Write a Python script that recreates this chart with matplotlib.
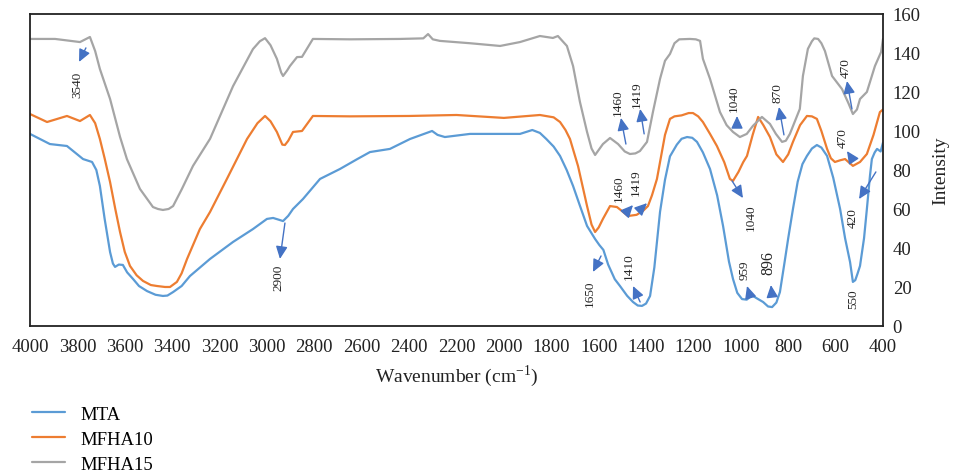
import matplotlib
matplotlib.use("Agg")
import matplotlib.pyplot as plt

plt.rcParams['font.family'] = ['Liberation Serif', 'DejaVu Serif']
plt.rcParams['mathtext.fontset'] = 'custom'
plt.rcParams['mathtext.rm'] = 'Liberation Serif'

# MTA (blue)
wn_mta = [4000, 3916, 3844, 3776, 3738, 3720, 3705, 3685, 3662, 3650, 3641, 3625, 3608, 3590,
          3565, 3540, 3506, 3470, 3439, 3420, 3396, 3360, 3325, 3240, 3143, 3059, 3000, 2974,
          2950, 2932, 2910, 2890, 2848, 2776, 2692, 2620, 2565, 2481, 2396, 2303, 2280, 2249,
          2143, 1932, 1880, 1848, 1821, 1790, 1763, 1735, 1708, 1680, 1649, 1615, 1597, 1580,
          1560, 1532, 1510, 1480, 1455, 1435, 1417, 1400, 1383, 1365, 1341, 1320, 1299, 1270,
          1250, 1227, 1205, 1185, 1160, 1130, 1100, 1075, 1050, 1033, 1015, 995, 975, 960, 949,
          930, 906, 885, 868, 850, 835, 815, 800, 780, 760, 740, 721, 700, 679, 660, 636, 610,
          581, 560, 539, 527, 517, 507, 497, 480, 468, 455, 447, 435, 425, 410, 400]
int_mta = [98.5, 93.3, 92.3, 85.6, 84.1, 80.0, 71.8, 55.0, 37.9, 32.0, 30.3, 31.5, 31.3, 27.5,
           24.1, 20.5, 17.9, 16.0, 15.4, 15.6, 17.4, 20.5, 25.6, 34.4, 43.1, 49.7, 54.9, 55.4,
           54.5, 53.8, 56.5, 60.0, 65.1, 75.4, 80.5, 85.5, 89.2, 90.8, 95.9, 100.0, 98.0, 96.9,
           98.5, 98.5, 100.5, 99.0, 95.9, 92.0, 87.2, 80.0, 71.8, 62.0, 51.3, 44.6, 41.5, 39.0,
           31.5, 24.0, 20.5, 15.5, 12.3, 10.5, 10.3, 11.5, 15.4, 30.0, 58.5, 75.0, 87.0, 93.0,
           96.0, 96.9, 96.5, 94.4, 89.0, 80.5, 67.0, 51.3, 33.0, 24.1, 17.0, 13.8, 13.5, 15.0, 15.4,
           14.0, 12.3, 10.0, 9.7, 12.0, 17.4, 33.0, 45.0, 60.0, 74.0, 83.0, 87.2, 91.0, 92.8, 91.5,
           87.2, 76.0, 60.0, 45.0, 32.8, 22.6, 23.5, 27.0, 30.8, 45.0, 60.0, 77.0, 85.6, 89.0, 90.8,
           89.5, 94.0]

# MFHA10 (orange)
wn_m10 = [4000, 3928, 3844, 3789, 3747, 3725, 3705, 3685, 3662, 3640, 3620, 3600, 3578, 3550,
          3523, 3490, 3464, 3430, 3409, 3380, 3360, 3337, 3283, 3240, 3169, 3084, 3040, 3008,
          2985, 2958, 2935, 2924, 2910, 2890, 2852, 2806, 2650, 2400, 2200, 2000, 1848, 1790,
          1763, 1740, 1721, 1687, 1649, 1630, 1615, 1600, 1582, 1552, 1523, 1502, 1476, 1440,
          1413, 1392, 1375, 1354, 1320, 1299, 1280, 1250, 1220, 1202, 1180, 1160, 1130, 1101,
          1070, 1046, 1033, 1010, 990, 974, 950, 927, 905, 877, 850, 822, 800, 780, 750, 721,
          700, 679, 660, 636, 620, 603, 580, 560, 527, 497, 468, 440, 413, 400]
int_m10 = [108.7, 104.6, 107.7, 105.1, 108.2, 104.0, 95.9, 86.0, 73.8, 60.0, 48.2, 38.0, 30.8, 26.0,
           23.1, 21.0, 20.5, 20.0, 20.0, 22.6, 27.0, 34.4, 49.7, 58.5, 75.4, 95.9, 104.0, 107.7,
           105.0, 99.5, 93.0, 92.8, 95.0, 99.5, 100.0, 107.7, 107.5, 107.7, 108.2, 106.7, 108.2, 107.0,
           104.6, 100.5, 95.9, 82.0, 61.5, 52.0, 48.2, 50.5, 54.9, 61.5, 61.0, 59.0, 56.4, 57.0,
           59.0, 61.5, 67.0, 75.4, 98.0, 106.2, 107.5, 108.0, 109.2, 109.2, 107.5, 104.6, 98.5, 92.3,
           84.0, 75.4, 74.4, 79.0, 84.0, 87.2, 98.0, 107.2, 103.0, 96.9, 88.0, 84.1, 88.0, 94.4, 103.0, 107.7,
           107.5, 106.2, 100.0, 90.8, 86.0, 84.1, 85.0, 85.6, 82.1, 84.1, 88.2, 98.0, 109.7, 111.0]

# MFHA15 (grey)
wn_m15 = [4000, 3894, 3789, 3747, 3725, 3705, 3662, 3620, 3591, 3536, 3481, 3460, 3439, 3415,
          3396, 3360, 3312, 3240, 3143, 3059, 3030, 3008, 2985, 2958, 2940, 2932, 2915, 2903,
          2873, 2852, 2806, 2650, 2438, 2340, 2320, 2300, 2270, 2143, 2016, 1932, 1848, 1793,
          1772, 1734, 1708, 1679, 1649, 1630, 1615, 1582, 1552, 1518, 1490, 1468, 1445, 1426,
          1396, 1371, 1341, 1320, 1299, 1280, 1260, 1215, 1190, 1172, 1160, 1130, 1088, 1060,
          1033, 1004, 975, 949, 911, 877, 852, 826, 810, 793, 751, 738, 717, 700, 690, 674, 660,
          645, 615, 573, 545, 527, 510, 497, 468, 434, 408, 400]
int_m15 = [147.2, 147.2, 145.6, 148.2, 141.0, 131.8, 116.4, 97.0, 85.6, 70.3, 61.0, 60.0, 59.5, 60.0,
           61.5, 70.0, 82.1, 96.0, 123.0, 142.0, 146.0, 147.6, 144.0, 137.0, 130.0, 128.2, 131.0, 133.3,
           137.9, 138.0, 147.2, 147.0, 147.2, 147.5, 149.7, 147.0, 146.2, 145.0, 143.6, 145.6, 148.7, 147.7,
           148.7, 143.6, 133.3, 114.9, 99.5, 91.0, 87.7, 93.3, 96.4, 93.3, 89.5, 88.2, 88.5, 89.7,
           94.4, 109.7, 126.7, 136.0, 139.5, 145.0, 147.0, 147.2, 147.0, 146.2, 137.0, 126.7, 109.7, 103.0,
           99.5, 96.9, 98.5, 102.6, 107.2, 103.6, 98.5, 94.4, 95.0, 98.5, 111.3, 128.2, 142.1, 146.0, 147.5, 147.2, 145.0,
           141.0, 128.2, 121.5, 114.0, 108.7, 111.0, 116.4, 120.0, 133.3, 140.5, 147.2]

# peak labels: text, text position, arrow tail, arrow tip (wavenumber, intensity)
labels = ["3540", "2900", "1460", "1419", "1460", "1419", "1650", "1410", "1040", "870",
          "1040", "959", "896", "470", "420", "550", "470"]
text_pos = [(3802, 124), (2953, 25), (1518, 115), (1438, 119), (1514, 71), (1442, 74),
            (1637, 17), (1472, 31), (1029, 117), (847, 120), (957, 56), (982, 29),
            (885, 33), (569, 97), (527, 56), (527, 14), (556, 133)]
arrow_tail = [(3764, 142.6), (2924, 52.8), (1485, 93.3), (1408, 98.5), (1485, 58), (1413, 61),
              (1590, 35.9), (1425, 12.3), (1016, 102.6), (818, 98), (1037, 74.4), (961, 15.4),
              (868, 15.4), (527, 85.1), (430, 79), None, (531, 111.3)]
arrow_tip = [(3793, 135.4), (2945, 34.4), (1506, 106.7), (1425, 111.3), (1455, 62), (1396, 63),
             (1624, 27.7), (1455, 20.5), (1016, 107.7), (839, 112.3), (991, 65.6), (974, 20.5),
             (873, 21), (552, 89.7), (501, 65.1), None, (552, 125.6)]
label_size = [9.5] * len(labels)
label_size[12] = 11.5

fig = plt.figure(figsize=(9.55, 4.77), dpi=100)
ax = fig.add_axes([0.0314, 0.3145, 0.8932, 0.6541])

line_kw = dict(lw=1.6, solid_joinstyle='round', solid_capstyle='round')
l1, = ax.plot(wn_mta, int_mta, color='#5B9BD5', label='MTA', **line_kw)
l2, = ax.plot(wn_m10, int_m10, color='#ED7D31', label='MFHA10', **line_kw)
l3, = ax.plot(wn_m15, int_m15, color='#A5A5A5', label='MFHA15', **line_kw)

arrow_col = '#4472C4'
for lab, tp, tail, tip, fs in zip(labels, text_pos, arrow_tail, arrow_tip, label_size):
    if tail is not None:
        ax.annotate('', xy=tip, xytext=tail,
                    arrowprops=dict(arrowstyle='-|>,head_length=0.75,head_width=0.35',
                                    color=arrow_col, lw=1, shrinkA=0, shrinkB=0))
    ax.text(tp[0], tp[1], lab, rotation=90, fontsize=fs, ha='center', va='center', color='#262626')

ax.set_xlim(4000, 400)
ax.set_ylim(0, 160)
ax.set_xticks(range(4000, 399, -200))
ax.set_yticks(range(0, 161, 20))
ax.yaxis.tick_right()
ax.yaxis.set_label_position('right')
ax.tick_params(length=0, labelsize=13.5, colors='#222222')
ax.tick_params(axis='x', pad=9)
ax.tick_params(axis='y', pad=7)
for s in ax.spines.values():
    s.set_color('#222222')
    s.set_linewidth(1.3)

ax.set_xlabel('Wavenumber (cm$^{-1}$)', fontsize=14, color='#222222', labelpad=5)
ax.set_ylabel('Intensity', fontsize=14, color='#222222', labelpad=8)

fig.legend(handles=[l1, l2, l3], loc='upper left', bbox_to_anchor=(0.033, 0.147),
           frameon=False, fontsize=13.5, handlelength=1.8, handletextpad=0.8,
           labelspacing=0.42, borderpad=0, borderaxespad=0)

fig.savefig('out.png', dpi=100)
